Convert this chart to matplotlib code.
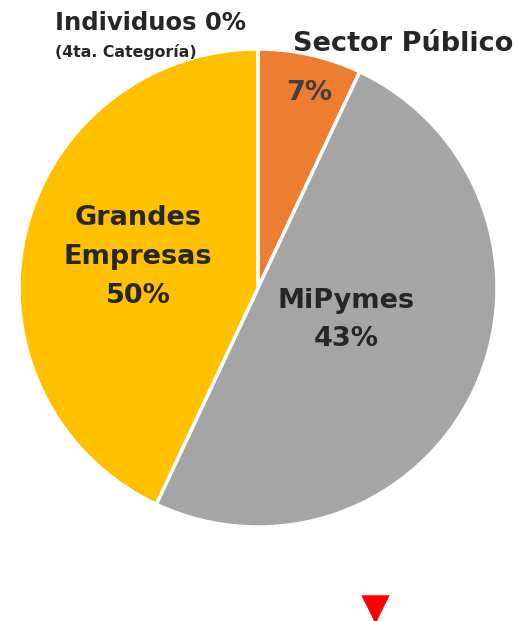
import matplotlib.pyplot as plt

# slice sizes as drawn (start at 12 o'clock, clockwise)
sectors = ['Sector Público', 'MiPymes', 'Grandes Empresas', 'Individuos']
shares = [7, 50, 43, 0]
colors = ['#ED7D31', '#A5A5A5', '#FFC000', '#5B9BD5']
pct_labels = ['7%', '43%', '50%', '0%']

W, H = 518, 621
fig = plt.figure(figsize=(W / 100, H / 100), dpi=100)
ax = fig.add_axes([0, 0, 1, 1])

cx, cy, r = 258, H - 288, 239
ax.pie(shares, colors=colors, startangle=90, counterclock=False,
       center=(cx, cy), radius=r, frame=True,
       wedgeprops=dict(edgecolor='white', linewidth=2.5))
ax.set_xlim(0, W)
ax.set_ylim(0, H)
ax.set_aspect('equal')
ax.axis('off')

font = 'DejaVu Sans'
dark = '#262626'
mid = '#404040'

ax.text(55, H - 23, f'Individuos {pct_labels[3]}', fontsize=17.5, fontweight='bold',
        family=font, color=dark, ha='left', va='center')
ax.text(55, H - 52, '(4ta. Categoría)', fontsize=11.3, fontweight='bold',
        family=font, color=dark, ha='left', va='center')
ax.text(403, H - 44, sectors[0], fontsize=19.5, fontweight='bold',
        family=font, color=dark, ha='center', va='center')
ax.text(309, H - 93, pct_labels[0], fontsize=19.5, fontweight='bold',
        family=font, color=mid, ha='center', va='center')
ax.text(138, H - 257, f'Grandes\nEmpresas\n{pct_labels[2]}', fontsize=19.5,
        fontweight='bold', family=font, color=dark, ha='center', va='center',
        linespacing=1.63)
ax.text(346, H - 320, f'MiPymes\n{pct_labels[1]}', fontsize=19.5,
        fontweight='bold', family=font, color=dark, ha='center', va='center',
        linespacing=1.63)

# red marker below the pie
ax.scatter([375], [H - 609], marker='v', s=420, color='red', linewidths=0)

fig.savefig('out.png', dpi=100)
